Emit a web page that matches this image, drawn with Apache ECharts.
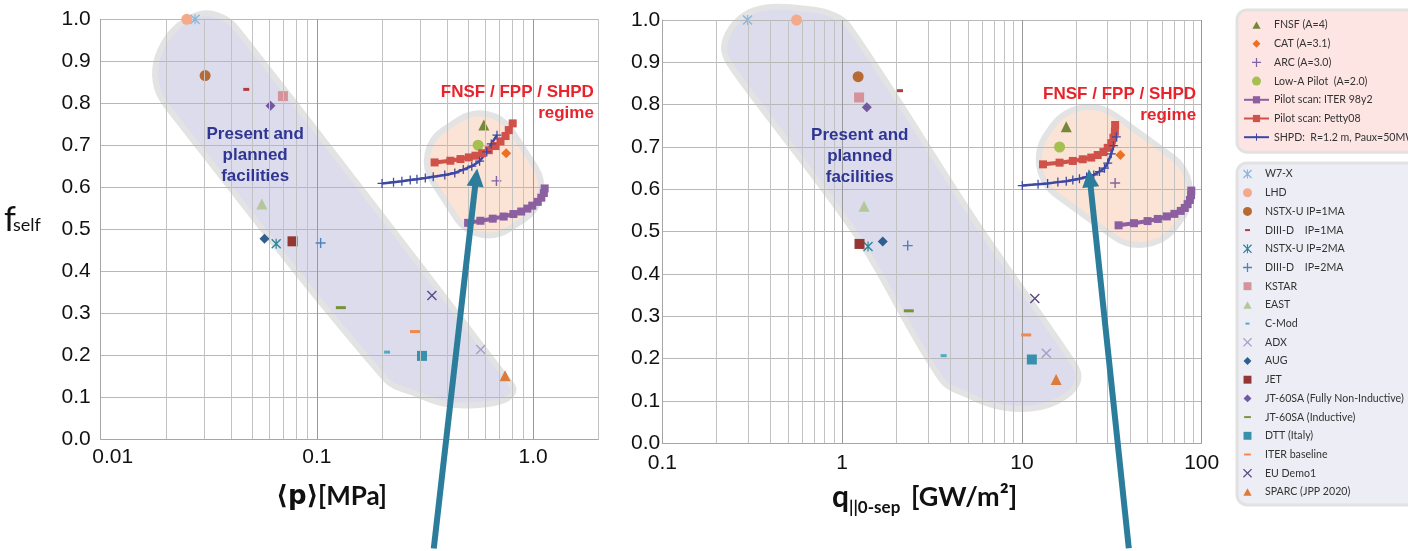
<!DOCTYPE html>
<html>
<head>
<meta charset="utf-8">
<script src="https://cdn.jsdelivr.net/npm/echarts@6/dist/echarts.min.js"></script>
<style>
  html, body { margin: 0; padding: 0; background: #ffffff; }
  #chart { width: 1408px; height: 551px; }
</style>
</head>
<body>
<div id="chart"></div>
<script>
// ---------------- data ----------------
const facilityNames = ['W7-X', 'LHD', 'NSTX-U IP=1MA', 'DIII-D    IP=1MA', 'NSTX-U IP=2MA', 'DIII-D    IP=2MA',
  'KSTAR', 'EAST', 'C-Mod', 'ADX', 'AUG', 'JET', 'JT-60SA (Fully Non-Inductive)', 'JT-60SA (Inductive)',
  'DTT (Italy)', 'ITER baseline', 'EU Demo1', 'SPARC (JPP 2020)'];
const facilityPressure = [0.0273, 0.025, 0.0304, 0.0471, 0.0648, 0.104, 0.0696, 0.0556, 0.211, 0.572,
  0.0572, 0.0771, 0.061, 0.129, 0.306, 0.284, 0.340, 0.741];
const facilityHeatFlux = [0.298, 0.558, 1.228, 2.10, 1.394, 2.317, 1.243, 1.325, 3.67, 13.66,
  1.683, 1.25, 1.372, 2.35, 11.36, 10.57, 11.8, 15.5];
const facilityFself = [1.0, 1.0, 0.866, 0.833, 0.465, 0.467, 0.817, 0.56, 0.207, 0.213,
  0.477, 0.471, 0.794, 0.313, 0.198, 0.256, 0.342, 0.151];

const designNames = ['FNSF (A=4)', 'CAT (A=3.1)', 'ARC (A=3.0)', 'Low-A Pilot  (A=2.0)'];
const designPressure = [0.591, 0.75, 0.676, 0.556];
const designHeatFlux = [17.65, 35.3, 33.0, 16.2];
const designFself = [0.748, 0.681, 0.615, 0.70];

const scanNames = ['Pilot scan: ITER 98y2', 'Pilot scan: Petty08', 'SHPD:  R=1.2 m, Paux=50MW'];

const iter98Fself = [0.515, 0.520, 0.525, 0.530, 0.536, 0.542, 0.549, 0.556, 0.565, 0.575, 0.586, 0.597];
const iter98Pressure = [0.50, 0.57, 0.65, 0.73, 0.81, 0.88, 0.94, 0.99, 1.05, 1.09, 1.12, 1.13];
const iter98HeatFlux = [34.5, 42, 50, 57, 64, 70.5, 76.5, 80.5, 83.5, 86, 87.3, 87.5];

const petty08Fself = [0.659, 0.663, 0.667, 0.671, 0.675, 0.681, 0.688, 0.698, 0.709, 0.722, 0.736, 0.752];
const petty08Pressure = [0.350, 0.414, 0.461, 0.504, 0.541, 0.581, 0.623, 0.669, 0.706, 0.745, 0.771, 0.804];
const petty08HeatFlux = [13.1, 16.2, 19.2, 21.8, 24.3, 26.4, 28.4, 30.0, 31.4, 32.3, 32.9, 33.0];

const shpdFself = [0.609, 0.612, 0.614, 0.617, 0.619, 0.622, 0.625, 0.629, 0.634, 0.642, 0.650, 0.662, 0.684, 0.703, 0.724];
const shpdPressure = [0.20, 0.226, 0.247, 0.27, 0.29, 0.317, 0.345, 0.39, 0.434, 0.475, 0.52, 0.565, 0.61, 0.64, 0.68];
const shpdHeatFlux = [10.05, 12.3, 13.9, 15.85, 17.65, 19.2, 20.9, 22.9, 25.1, 27.0, 28.8, 30.0, 31.4, 32.3, 33.5];

const yTickLabels = ['0.0', '0.1', '0.2', '0.3', '0.4', '0.5', '0.6', '0.7', '0.8', '0.9', '1.0'];
const pressureTickLabels = { '-2': '0.01', '-1': '0.1', '0': '1.0' };
const heatFluxTickLabels = { '-1': '0.1', '0': '1', '1': '10', '2': '100' };

// outline of the "present and planned facilities" regions, as [log10(x), fself]
const facilitiesRegionP = [[-1.526, 1.014], [-1.438, 1.005], [-1.369, 0.976], [-0.124, 0.145], [-0.091, 0.117],
  [-0.133, 0.093], [-0.253, 0.081], [-0.401, 0.083], [-0.540, 0.107], [-0.684, 0.143], [-1.684, 0.786],
  [-1.739, 0.836], [-1.744, 0.895], [-1.693, 0.955], [-1.614, 0.995]];
const facilitiesRegionQ = [[-0.391, 1.031], [-0.235, 1.028], [-0.079, 1.017], [0.032, 0.988], [0.748, 0.520],
  [1.282, 0.192], [1.315, 0.157], [1.271, 0.121], [1.143, 0.090], [0.987, 0.081], [0.837, 0.090],
  [0.709, 0.112], [0.554, 0.150], [0.076, 0.494], [-0.607, 0.884], [-0.657, 0.932], [-0.613, 0.983],
  [-0.513, 1.019]];

// ---------------- marker styles ----------------
const PLUS = 'path://M4.3,0H5.7V4.3H10V5.7H5.7V10H4.3V5.7H0V4.3H4.3Z';
const CROSS = 'path://M0,1L1,0L5,4L9,0L10,1L6,5L10,9L9,10L5,6L1,10L0,9L4,5Z';
const STAR = 'path://M0,1L1,0L5,4L9,0L10,1L6,5L10,9L9,10L5,6L1,10L0,9L4,5Z M4.4,0H5.6V10H4.4Z';
// legend icons: drawn inside a fixed 10x10 box so they keep their proportions
const BOX = 'path://M0,0M10,10';
const dashIcon = (w) => BOX + 'M' + (5 - w / 2) + ',3.9H' + (5 + w / 2) + 'V6.1H' + (5 - w / 2) + 'Z';
const legendIcons = {
  triangle: BOX + 'M5,1L9.6,9.2H0.4Z',
  diamond: BOX + 'M5,0.6L9.4,5L5,9.4L0.6,5Z',
  rect: BOX + 'M0.6,0.6H9.4V9.4H0.6Z',
  circle: 'circle'
};

const markerStyle = {
  'W7-X': { symbol: STAR, size: 10, color: '#88b8dc' },
  'LHD': { symbol: 'circle', size: 11, color: '#f4a98a' },
  'NSTX-U IP=1MA': { symbol: 'circle', size: 11, color: '#b86a33' },
  'DIII-D    IP=1MA': { symbol: 'rect', size: [6, 3], color: '#b23c3c', icon: dashIcon(5.5) },
  'NSTX-U IP=2MA': { symbol: STAR, size: 10, color: '#31859c' },
  'DIII-D    IP=2MA': { symbol: PLUS, size: 10, color: '#4f81bd' },
  'KSTAR': { symbol: 'rect', size: 10, color: '#d4939a' },
  'EAST': { symbol: 'triangle', size: 11, color: '#b3c79a' },
  'C-Mod': { symbol: 'rect', size: [6, 3], color: '#4bacc6', icon: dashIcon(4.5) },
  'ADX': { symbol: CROSS, size: 10, color: '#a99dc9' },
  'AUG': { symbol: 'diamond', size: 10, color: '#2f5f8f' },
  'JET': { symbol: 'rect', size: 10, color: '#943634' },
  'JT-60SA (Fully Non-Inductive)': { symbol: 'diamond', size: 10, color: '#71589f' },
  'JT-60SA (Inductive)': { symbol: 'rect', size: [10, 3], color: '#77933c', icon: dashIcon(7.5) },
  'DTT (Italy)': { symbol: 'rect', size: 10, color: '#3891ac' },
  'ITER baseline': { symbol: 'rect', size: [10, 3], color: '#ef8a4c', icon: dashIcon(7.5) },
  'EU Demo1': { symbol: CROSS, size: 10, color: '#5b4a82' },
  'SPARC (JPP 2020)': { symbol: 'triangle', size: 11, color: '#dd7b3a' },
  'FNSF (A=4)': { symbol: 'triangle', size: 11, color: '#76873a' },
  'CAT (A=3.1)': { symbol: 'diamond', size: 10, color: '#ee6f22' },
  'ARC (A=3.0)': { symbol: PLUS, size: 10, color: '#8064a2' },
  'Low-A Pilot  (A=2.0)': { symbol: 'circle', size: 11, color: '#a5bf50' }
};
const scanStyle = {
  'Pilot scan: ITER 98y2': { symbol: 'rect', size: 8, color: '#8b5fa0', width: 4 },
  'Pilot scan: Petty08': { symbol: 'rect', size: 8, color: '#d0504a', width: 4 },
  'SHPD:  R=1.2 m, Paux=50MW': { symbol: PLUS, size: 9, color: '#3d48a3', width: 2.5 }
};

// ---------------- series ----------------
const series = [];
function addScatter(name, x, y, grid) {
  const s = markerStyle[name];
  series.push({
    type: 'scatter', name, xAxisIndex: grid, yAxisIndex: grid, z: 4, silent: true,
    symbol: s.symbol, symbolSize: s.size, itemStyle: { color: s.color, opacity: 1 },
    data: [[x, y]]
  });
}
function addScan(name, xs, ys, grid) {
  const s = scanStyle[name];
  series.push({
    type: 'line', name, xAxisIndex: grid, yAxisIndex: grid, z: 5, silent: true,
    symbol: s.symbol, symbolSize: s.size, showAllSymbol: true,
    itemStyle: { color: s.color }, lineStyle: { color: s.color, width: s.width },
    data: xs.map((x, i) => [x, ys[i]])
  });
}
facilityNames.forEach((n, i) => {
  addScatter(n, facilityPressure[i], facilityFself[i], 0);
  addScatter(n, facilityHeatFlux[i], facilityFself[i], 1);
});
designNames.forEach((n, i) => {
  addScatter(n, designPressure[i], designFself[i], 0);
  addScatter(n, designHeatFlux[i], designFself[i], 1);
});
addScan(scanNames[0], iter98Pressure, iter98Fself, 0);
addScan(scanNames[1], petty08Pressure, petty08Fself, 0);
addScan(scanNames[2], shpdPressure, shpdFself, 0);
addScan(scanNames[0], iter98HeatFlux, iter98Fself, 1);
addScan(scanNames[1], petty08HeatFlux, petty08Fself, 1);
addScan(scanNames[2], shpdHeatFlux, shpdFself, 1);

// minor log gridlines (2..9 in each decade) drawn as vertical mark lines
function minorLogLines(lo, hi) {
  const out = [];
  for (let e = Math.floor(Math.log10(lo)); e <= Math.ceil(Math.log10(hi)); e++) {
    for (let m = 2; m <= 9; m++) {
      const v = m * Math.pow(10, e);
      if (v > lo * 1.0001 && v <= hi * 1.0001) out.push({ xAxis: v });
    }
  }
  return out;
}
[[0, 0.01, 2], [1, 0.1, 100]].forEach(([g, lo, hi]) => {
  series.push({
    type: 'scatter', xAxisIndex: g, yAxisIndex: g, data: [], z: 1, silent: true,
    markLine: {
      silent: true, symbol: ['none', 'none'], label: { show: false },
      lineStyle: { color: '#c2c2c2', width: 1, type: 'solid' },
      emphasis: { disabled: true }, animation: false,
      data: minorLogLines(lo, hi)
    }
  });
});

// ---------------- axes ----------------
const tickFont = { fontFamily: 'Liberation Sans, Arial, sans-serif', fontSize: 21, color: '#111111' };
function logLabel(map) {
  return (v) => {
    const l = Math.log10(v), k = Math.round(l);
    if (Math.abs(l - k) > 1e-6) return '';
    const t = map[String(k)] || '';
    return k === -2 ? '{first|' + t + '}' : t;
  };
}
function xAxisCfg(g, lo, hi, map, margin, showMax) {
  return {
    gridIndex: g, type: 'log', logBase: 10, min: lo, max: hi,
    axisLine: { show: true, lineStyle: { color: '#a6a6a6', width: 1 } },
    axisTick: { show: false },
    splitLine: { show: true, showMaxLine: showMax, lineStyle: { color: '#9a9a9a', width: 1 } },
    axisLabel: Object.assign({ margin, formatter: logLabel(map), hideOverlap: false,
      rich: { first: Object.assign({ padding: [0, 0, 0, 24] }, tickFont) } }, tickFont)
  };
}
function yAxisCfg(g, margin) {
  return {
    gridIndex: g, type: 'value', min: 0, max: 1, interval: 0.1,
    axisLine: { show: true, lineStyle: { color: '#a6a6a6', width: 1 } },
    axisTick: { show: false },
    splitLine: { show: true, lineStyle: { color: '#b8b8b8', width: 1 } },
    axisLabel: Object.assign({ margin, formatter: (v) => yTickLabels[Math.round(v * 10)] }, tickFont)
  };
}

// ---------------- legends ----------------
function legendData(names) {
  return names.map((n) => {
    const s = markerStyle[n];
    if (!s) return { name: n };
    const icon = s.icon || legendIcons[s.symbol];
    return icon ? { name: n, icon } : { name: n };
  });
}
const legendText = { fontFamily: 'Lato, sans-serif', fontSize: 10.6, color: '#333333', lineHeight: 12 };

const option = {
  animation: false,
  backgroundColor: '#ffffff',
  grid: [
    { left: 100.7, top: 19.3, width: 497.6, height: 419.7 },
    { left: 662.3, top: 20, width: 539.4, height: 423.3 }
  ],
  xAxis: [
    xAxisCfg(0, 0.01, 2, pressureTickLabels, 8, false),
    xAxisCfg(1, 0.1, 100, heatFluxTickLabels, 9, true)
  ],
  yAxis: [yAxisCfg(0, 10), yAxisCfg(1, 2)],
  legend: [
    {
      orient: 'vertical', left: 1237, top: 10, itemWidth: 25, itemHeight: 9, itemGap: 6.7,
      backgroundColor: '#fde5e4', borderColor: '#e2e2e2', borderWidth: 3, borderRadius: 10,
      padding: [9, 60, 9, 6], selectedMode: false, textStyle: legendText,
      data: legendData(designNames.concat(scanNames))
    },
    {
      orient: 'vertical', left: 1237, top: 163, itemWidth: 25, itemHeight: 9, itemGap: 6.7,
      backgroundColor: '#ededf5', borderColor: '#e2e2e2', borderWidth: 3, borderRadius: 10,
      padding: [5, 60, 7, 6], selectedMode: false, textStyle: legendText,
      data: legendData(facilityNames)
    }
  ],
  series
};

const chart = echarts.init(document.getElementById('chart'), null, { renderer: 'canvas' });
chart.setOption(option);

// ---------------- annotations ----------------
const px = (g, x, y) => chart.convertToPixel({ gridIndex: g }, [x, y]);

function region(g, outline, fill) {
  return {
    type: 'polygon', z: -5, silent: true,
    shape: { points: outline.map(([lx, f]) => px(g, Math.pow(10, lx), f)), smooth: 0.35 },
    style: { fill, stroke: '#e3e3e3', lineWidth: 6, lineJoin: 'round' }
  };
}
function blob(g, c, w, h, r, rot, fill) {
  const p = px(g, c[0], c[1]);
  return {
    type: 'rect', x: p[0], y: p[1], rotation: rot,
    shape: { x: -(w - 6) / 2, y: -(h - 6) / 2, width: w - 6, height: h - 6, r },
    style: { fill, stroke: '#e3e3e3', lineWidth: 6 }, z: -4, silent: true
  };
}
function label(g, at, text, color, align) {
  const p = px(g, at[0], at[1]);
  return {
    type: 'text', x: p[0], y: p[1], z: 10, silent: true,
    style: { text, fill: color, fontFamily: 'Liberation Sans, Arial, sans-serif', fontWeight: 'bold',
      fontSize: 17, lineHeight: 21, align, verticalAlign: 'middle' }
  };
}
function arrow(g, tip, tail) {
  const t = px(g, tip[0], tip[1]);
  const s = [t[0] + tail[0], t[1] + tail[1]];
  const len = Math.hypot(t[0] - s[0], t[1] - s[1]);
  const ux = (t[0] - s[0]) / len, uy = (t[1] - s[1]) / len;
  const h = [t[0] - ux * 18, t[1] - uy * 18];
  const col = '#2c7c9b';
  return [
    { type: 'line', z: 20, silent: true, shape: { x1: s[0], y1: s[1], x2: h[0] + ux * 2, y2: h[1] + uy * 2 },
      style: { stroke: col, lineWidth: 6 } },
    { type: 'polygon', z: 20, silent: true,
      shape: { points: [t, [h[0] - uy * 8.5, h[1] + ux * 8.5], [h[0] + uy * 8.5, h[1] - ux * 8.5]] },
      style: { fill: col } }
  ];
}
function plain(x, y, text, size, weight, family, align, vAlign) {
  return { type: 'text', x, y, z: 10, silent: true,
    style: { text, fill: '#111111', fontSize: size, fontWeight: weight, fontFamily: family,
      align: align || 'left', verticalAlign: vAlign || 'middle' } };
}

const LAV = '#dcdcec', PEACH = '#fbe3d5';
const graphic = [
  region(0, facilitiesRegionP, LAV),
  region(1, facilitiesRegionQ, LAV),
  blob(0, [0.5926, 0.6305], 100, 125, 38, 0.576, PEACH),
  blob(1, [32.7, 0.6315], 165, 105, 45, -0.628, PEACH),
  label(0, [0.0518, 0.676], 'Present and\nplanned\nfacilities', '#2e3592', 'center'),
  label(1, [1.254, 0.677], 'Present and\nplanned\nfacilities', '#2e3592', 'center'),
  label(0, [1.908, 0.801], 'FNSF / FPP / SHPD\nregime', '#e8232b', 'right'),
  label(1, [93.1, 0.800], 'FNSF / FPP / SHPD\nregime', '#e8232b', 'right'),
  ...arrow(0, [0.5506, 0.6445], [-43.4, 380]),
  ...arrow(1, [23.56, 0.6473], [40, 379]),
  // axis titles
  plain(4, 237, 'f', 34, 'normal', 'Lato, sans-serif', 'left', 'bottom'),
  plain(13, 234, 'self', 18, 'normal', 'Lato, sans-serif', 'left', 'bottom'),
  plain(276, 497, '\u27e8p\u27e9', 26, 'bold', 'DejaVu Sans, sans-serif'),
  plain(318, 497, '[MPa]', 26, 'bold', 'Lato, sans-serif'),
  plain(832, 497, 'q', 30, 'bold', 'Lato, sans-serif'),
  plain(849, 508, '||0-sep', 17, 'bold', 'Lato, sans-serif'),
  plain(911, 497, '[GW/m\u00b2]', 27, 'bold', 'Lato, sans-serif')
];
chart.setOption({ graphic });
</script>
</body>
</html>
